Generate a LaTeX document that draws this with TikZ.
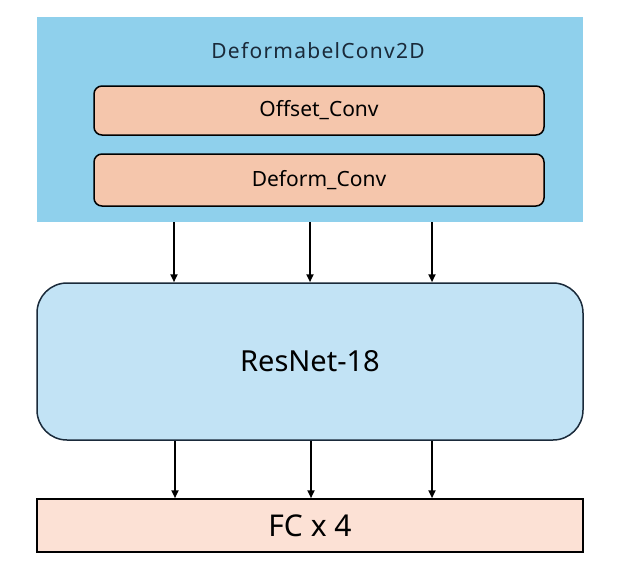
\documentclass[tikz,border=0pt]{standalone}
\usepackage{fontspec}
\setmainfont{Noto Sans}
\usetikzlibrary{arrows.meta}
\definecolor{skyb}{HTML}{8FD0EC}
\definecolor{lightb}{HTML}{C2E3F5}
\definecolor{peach}{HTML}{F5C6AC}
\definecolor{lpeach}{HTML}{FCE1D5}
\definecolor{navy}{HTML}{1A2A3A}
\tikzset{
  box/.style={rectangle, minimum width=#1, inner sep=0pt, text=black},
  inner/.style={rectangle, rounded corners=8pt, draw=black, line width=1.5pt, fill=peach, minimum width=450pt, inner sep=0pt, font=\fontsize{21}{24}\selectfont},
  arr/.style={-{Triangle[length=8pt,width=7pt]}, line width=2pt, black}
}
\begin{document}
\begin{tikzpicture}[x=1pt,y=-1pt]
\useasboundingbox[fill=white] (0,0) rectangle (634,576);
\node[box=546pt, fill=skyb, minimum height=205pt] (outer) at (310,119.5) {};
\node[font=\fontsize{21}{24}\selectfont\addfontfeature{LetterSpace=6}, text=navy] (title) at (318,51) {DeformabelConv2D};
\node[inner, minimum height=49pt] (offset) at (319,110.5) {Offset\_Conv};
\node[inner, minimum height=52pt] (deform) at (319,180) {Deform\_Conv};
\node[box=546pt, draw=navy, line width=1.5pt, fill=lightb, rounded corners=30pt, minimum height=157pt, font=\fontsize{29}{32}\selectfont] (resnet) at (310,361.5) {ResNet-18};
\node[box=546pt, draw=black, line width=1.5pt, fill=lpeach, minimum height=53pt, font=\fontsize{30}{34}\selectfont] (fc) at (310,525.5) {FC x 4};
\foreach \xx in {174,310,432}{
  \draw[arr] (outer.south -| \xx,0) -- (resnet.north -| \xx,0);
}
\foreach \xx in {175,311,432}{
  \draw[arr] (resnet.south -| \xx,0) -- (fc.north -| \xx,0);
}
\end{tikzpicture}
\end{document}
